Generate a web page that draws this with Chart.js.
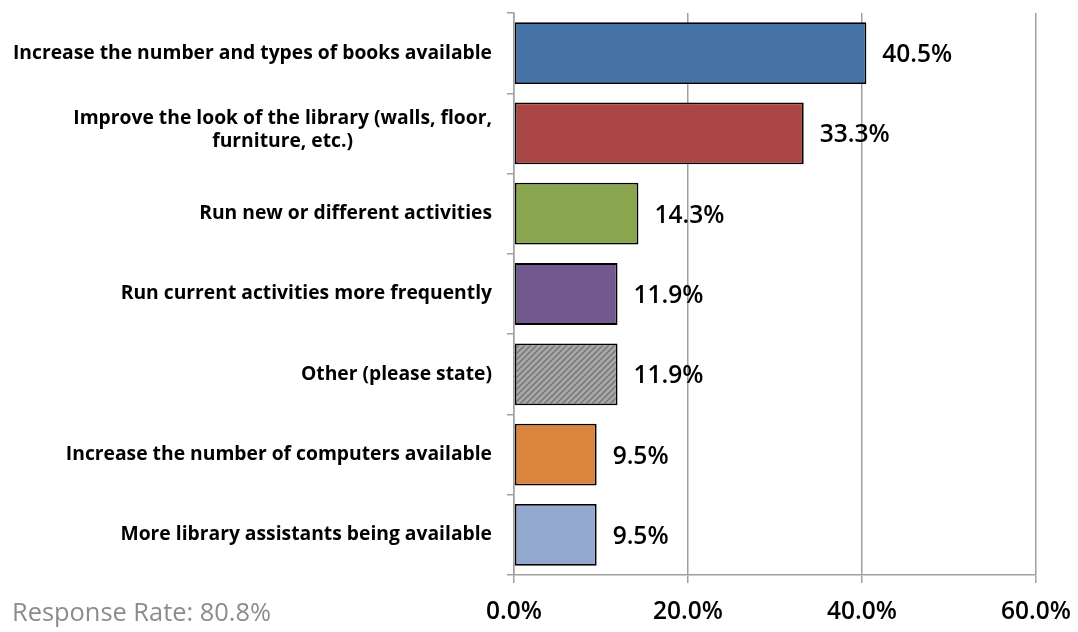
<!DOCTYPE html>
<html>
<head>
<meta charset="utf-8">
<script src="https://cdn.jsdelivr.net/npm/chart.js@4/dist/chart.umd.min.js"></script>
<style>
  html, body { margin: 0; padding: 0; background: #ffffff; }
  #wrap { width: 1078px; height: 632px; position: relative; }
</style>
</head>
<body>
<div id="wrap"><canvas id="chart" width="1078" height="632"></canvas></div>
<script>
// Survey answers: what would improve the library
const categories = [
  ['Increase the number and types of books available'],
  ['Improve the look of the library (walls, floor,', 'furniture, etc.)'],
  ['Run new or different activities'],
  ['Run current activities more frequently'],
  ['Other (please state)'],
  ['Increase the number of computers available'],
  ['More library assistants being available']
];
const percentages = [40.5, 33.3, 14.3, 11.9, 11.9, 9.5, 9.5];
const axisTicks = [0, 20, 40, 60];
const responseRate = 'Response Rate: 80.8%';

// Diagonal hatch fill for the "Other" bar
function makeHatch() {
  const size = 6;
  const c = document.createElement('canvas');
  c.width = size; c.height = size;
  const g = c.getContext('2d');
  g.fillStyle = '#a8a8a8';
  g.fillRect(0, 0, size, size);
  g.strokeStyle = '#767676';
  g.lineWidth = 1.5;
  g.beginPath();
  g.moveTo(0, size); g.lineTo(size, 0);
  g.moveTo(-size / 2, size / 2); g.lineTo(size / 2, -size / 2);
  g.moveTo(size / 2, size * 1.5); g.lineTo(size * 1.5, size / 2);
  g.stroke();
  return g.createPattern(c, 'repeat');
}

const barColors = ['#4572a7', '#aa4643', '#89a54e', '#71588f', makeHatch(), '#db843d', '#93a9cf'];

const FONT = "'Open Sans', 'Noto Sans', sans-serif";

// Category labels: right-aligned to the axis, wrapped lines centred under each other
const categoryLabels = {
  id: 'categoryLabels',
  afterDraw(chart) {
    const ctx = chart.ctx;
    const y = chart.scales.y;
    const right = y.right - 22;
    ctx.save();
    ctx.font = 'bold 19.3px ' + FONT;
    ctx.fillStyle = '#000000';
    ctx.textAlign = 'center';
    ctx.textBaseline = 'middle';
    const lh = 23;
    categories.forEach((lines, i) => {
      const cy = y.getPixelForValue(i) - (lines.length > 1 ? 3 : 0);
      const w = Math.max(...lines.map(l => ctx.measureText(l).width));
      const cx = right - w / 2;
      const y0 = cy - (lines.length - 1) * lh / 2;
      lines.forEach((l, k) => ctx.fillText(l, cx, y0 + k * lh));
    });
    ctx.restore();
  }
};

// Value labels just past the end of each bar
const valueLabels = {
  id: 'valueLabels',
  afterDatasetsDraw(chart) {
    const ctx = chart.ctx;
    const meta = chart.getDatasetMeta(0);
    ctx.save();
    ctx.font = '600 24.5px ' + FONT;
    ctx.fillStyle = '#000000';
    ctx.textAlign = 'left';
    ctx.textBaseline = 'middle';
    meta.data.forEach((bar, i) => {
      ctx.fillText(percentages[i].toFixed(1) + '%', bar.x + 16, bar.y + 2);
    });
    ctx.restore();
  }
};

// Footnote with the response rate
const footnote = {
  id: 'footnote',
  afterDraw(chart) {
    const ctx = chart.ctx;
    ctx.save();
    ctx.font = '25.4px ' + FONT;
    ctx.fillStyle = '#8c8c8c';
    ctx.textAlign = 'left';
    ctx.textBaseline = 'middle';
    ctx.fillText(responseRate, 12, 614);
    ctx.restore();
  }
};

new Chart(document.getElementById('chart'), {
  type: 'bar',
  data: {
    labels: categories.map(l => l.join(' ')),
    datasets: [{
      data: percentages,
      backgroundColor: barColors,
      borderColor: '#000000',
      borderWidth: 1.8,
      borderSkipped: false,
      categoryPercentage: 1.0,
      barPercentage: 0.77
    }]
  },
  options: {
    indexAxis: 'y',
    responsive: false,
    animation: false,
    devicePixelRatio: 1,
    layout: { padding: { left: 0, top: 13, right: 42, bottom: 0 } },
    plugins: {
      legend: { display: false },
      tooltip: { enabled: false }
    },
    scales: {
      x: {
        min: 0,
        max: 60,
        afterBuildTicks(scale) {
          scale.ticks = axisTicks.map(v => ({ value: v }));
        },
        afterFit(scale) {
          scale.height = 57;
          scale.paddingLeft = 0;
          scale.paddingRight = 0;
        },
        grid: {
          color: '#a0a0a0',
          lineWidth: 1.5,
          drawTicks: true,
          tickLength: 8
        },
        border: { display: true, color: '#a0a0a0', width: 1.5 },
        ticks: {
          padding: 14,
          color: '#000000',
          maxRotation: 0,
          font: { family: FONT, size: 24.5, weight: '600' },
          callback: v => Number(v).toFixed(1) + '%'
        }
      },
      y: {
        afterFit(scale) { scale.width = 514; },
        grid: {
          display: true,
          offset: true,
          drawOnChartArea: false,
          drawTicks: true,
          tickLength: 7,
          color: '#a0a0a0',
          lineWidth: 1.5
        },
        border: { display: true, color: '#a0a0a0', width: 1.5 },
        ticks: { display: false }
      }
    }
  },
  plugins: [categoryLabels, valueLabels, footnote]
});
</script>
</body>
</html>
